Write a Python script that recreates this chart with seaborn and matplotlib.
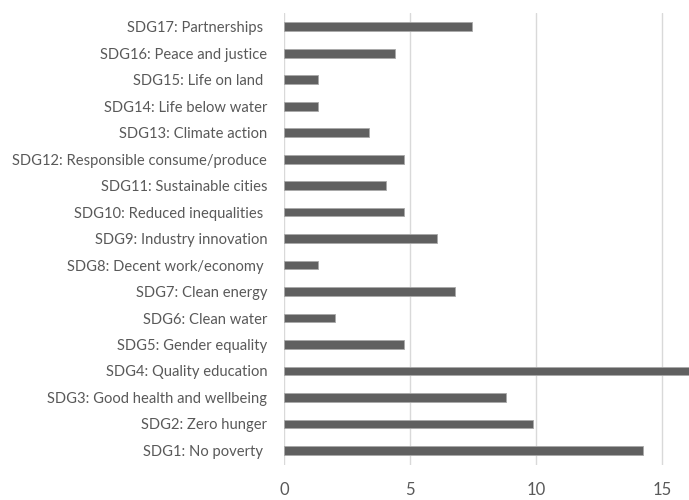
import matplotlib
matplotlib.use("Agg")
import matplotlib.pyplot as plt
import seaborn as sns
import pandas as pd

categories = [
    "SDG17: Partnerships ",
    "SDG16: Peace and justice",
    "SDG15: Life on land ",
    "SDG14: Life below water",
    "SDG13: Climate action",
    "SDG12: Responsible consume/produce",
    "SDG11: Sustainable cities",
    "SDG10: Reduced inequalities ",
    "SDG9: Industry innovation",
    "SDG8: Decent work/economy ",
    "SDG7: Clean energy",
    "SDG6: Clean water",
    "SDG5: Gender equality",
    "SDG4: Quality education",
    "SDG3: Good health and wellbeing",
    "SDG2: Zero hunger",
    "SDG1: No poverty ",
]
values = [7.46, 4.42, 1.34, 1.34, 3.36, 4.75, 4.05, 4.75, 6.08, 1.34,
          6.77, 2.02, 4.75, 16.2, 8.81, 9.87, 14.26]
x_ticks = [0, 5, 10, 15]

df = pd.DataFrame({"sdg": categories, "value": values})

sns.set_theme(style="white")
plt.rcParams["font.family"] = ["Lato", "DejaVu Sans"]

fig = plt.figure(figsize=(6.89, 5.0), dpi=100)
ax = fig.add_axes([0.412, 0.07, 0.588, 0.904])

sns.barplot(data=df, x="value", y="sdg", order=categories, color="#606060",
            width=0.33, saturation=1, edgecolor="#a8a8a8", linewidth=0.6,
            ax=ax, zorder=3)

ax.set_xlim(0, 16.07)
ax.set_ylim(len(categories) - 0.45, -0.52)
ax.set_xticks(x_ticks)
ax.set_xticklabels([str(t) for t in x_ticks])
ax.set_xlabel("")
ax.set_ylabel("")
for t in x_ticks:
    ax.axvline(t, color="#d9d9d9", linewidth=1.0, zorder=1)
for s in ax.spines.values():
    s.set_visible(False)
ax.tick_params(axis="y", length=0, pad=12, labelsize=10.6, labelcolor="#595959")
ax.tick_params(axis="x", length=0, pad=12, labelsize=12, labelcolor="#595959")
ax.grid(False)

fig.savefig("out.png", dpi=100)
